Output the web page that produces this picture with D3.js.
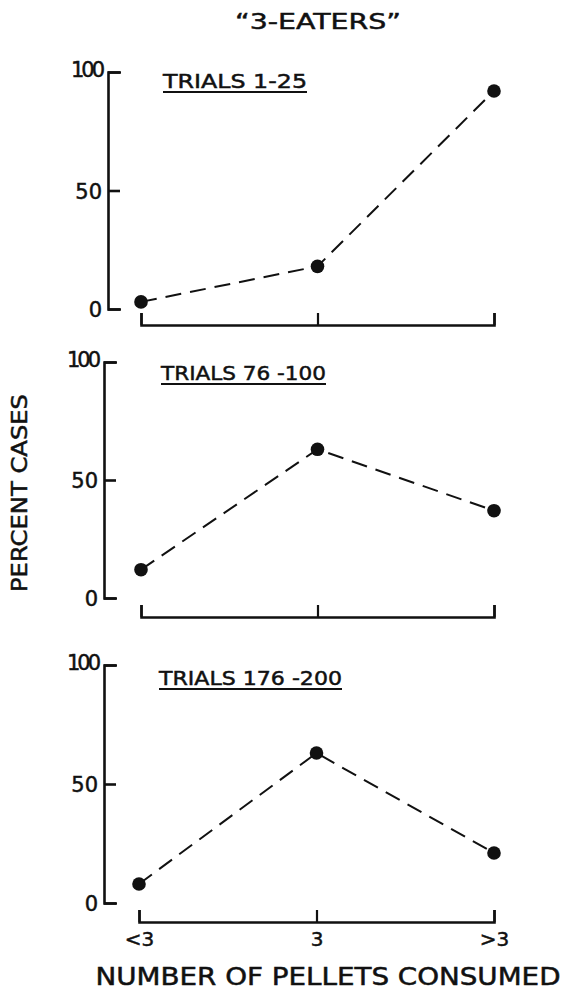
<!DOCTYPE html>
<html>
<head>
<meta charset="utf-8">
<script src="https://cdn.jsdelivr.net/npm/d3@7"></script>
<style>
  html, body { margin: 0; padding: 0; background: #fff; }
  svg { display: block; }
  text { font-family: "DejaVu Sans", "Noto Sans", sans-serif; fill: #111; stroke: #111; stroke-width: 0.5px; }
</style>
</head>
<body>
<svg id="chart" width="565" height="990"></svg>
<script>
// ---- data ----
const categories = ["<3", "3", ">3"];
const trials1to25 = [3, 18, 92];
const trials76to100 = [12, 63, 37];
const trials176to200 = [8, 63, 21];
const panelLabels = ["TRIALS 1-25", "TRIALS 76 -100", "TRIALS 176 -200"];
const yTicks = [0, 50, 100];
const chartTitle = "\u201C3-EATERS\u201D";
const yTitle = "PERCENT CASES";
const xTitle = "NUMBER OF PELLETS CONSUMED";

const seriesList = [trials1to25, trials76to100, trials176to200];

// ---- layout ----
const svg = d3.select("#chart");
const ink = "#111";
const panels = [
  { top: 72,  height: 237, axisX: 108, bracketGap: 16, xr: [141, 494], lab: [163, 88, 144] },
  { top: 362, height: 236, axisX: 104, bracketGap: 19, xr: [141, 494], lab: [161, 380, 165] },
  { top: 665, height: 238, axisX: 104, bracketGap: 19, xr: [139, 494], lab: [159, 685, 183] }
];

svg.append("text")
  .attr("x", 318).attr("y", 29)
  .attr("text-anchor", "middle")
  .attr("font-size", 22)
  .attr("textLength", 166).attr("lengthAdjust", "spacingAndGlyphs")
  .text(chartTitle);

panels.forEach((p, i) => {
  const y = d3.scaleLinear().domain([0, 100]).range([p.top + p.height, p.top]);
  const x = d3.scalePoint().domain(categories).range(p.xr).padding(0);
  const g = svg.append("g");

  // y axis: ticks pointing right, labels left
  const yAxis = d3.axisLeft(y).tickValues(yTicks)
    .tickSizeInner(-12).tickSizeOuter(-13).tickPadding(6)
    .tickFormat(d3.format("d"));
  const ya = g.append("g").attr("transform", `translate(${p.axisX},0)`).call(yAxis);
  ya.select(".domain").attr("stroke", ink).attr("stroke-width", 2.6);
  ya.selectAll(".tick line").attr("stroke", ink).attr("stroke-width", 2.6);
  ya.selectAll(".tick text")
    .attr("font-size", 21).attr("fill", ink)
    .attr("font-family", "DejaVu Sans")
    .attr("letter-spacing", d => d === 100 ? -3 : 0)
    .attr("dy", d => d === 100 ? "0.2em" : "0.36em");

  // x axis bracket: ticks pointing up
  const bracketY = p.top + p.height + p.bracketGap;
  const xAxis = d3.axisBottom(x)
    .tickSizeInner(-12).tickSizeOuter(-12).tickPadding(10)
    .tickFormat(i === 2 ? (d => d) : () => "");
  const xa = g.append("g").attr("transform", `translate(0,${bracketY})`).call(xAxis);
  xa.select(".domain").attr("stroke", ink).attr("stroke-width", 2.6);
  xa.selectAll(".tick line").attr("stroke", ink).attr("stroke-width", 2.2);
  xa.selectAll(".tick text").attr("font-size", 20).attr("fill", ink)
    .attr("font-family", "DejaVu Sans");

  // dashed line
  const vals = seriesList[i];
  const line = d3.line().x((d, j) => x(categories[j])).y(d => y(d));
  g.append("path").datum(vals)
    .attr("d", line)
    .attr("fill", "none")
    .attr("stroke", ink)
    .attr("stroke-width", 2)
    .attr("stroke-dasharray", "16,9");

  // points
  g.selectAll("circle.pt").data(vals).join("circle")
    .attr("class", "pt")
    .attr("cx", (d, j) => x(categories[j]))
    .attr("cy", d => y(d))
    .attr("r", 6.8)
    .attr("fill", ink);

  // panel label with underline
  const [lx, ly, lw] = p.lab;
  g.append("text")
    .attr("x", lx).attr("y", ly)
    .attr("font-size", 20)
    .attr("textLength", lw).attr("lengthAdjust", "spacingAndGlyphs")
    .text(panelLabels[i]);
  g.append("line")
    .attr("x1", lx).attr("x2", lx + lw)
    .attr("y1", ly + 4).attr("y2", ly + 4)
    .attr("stroke", ink).attr("stroke-width", 1.8);
});

// y title
svg.append("text")
  .attr("transform", "translate(27,493) rotate(-90)")
  .attr("text-anchor", "middle")
  .attr("font-size", 22)
  .attr("textLength", 198).attr("lengthAdjust", "spacingAndGlyphs")
  .text(yTitle);

// x title
svg.append("text")
  .attr("x", 328).attr("y", 985)
  .attr("text-anchor", "middle")
  .attr("font-size", 24)
  .attr("textLength", 465).attr("lengthAdjust", "spacingAndGlyphs")
  .text(xTitle);
</script>
</body>
</html>
